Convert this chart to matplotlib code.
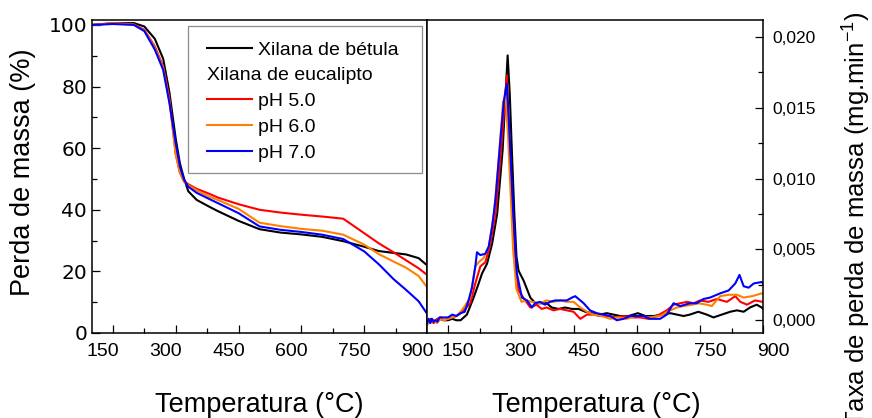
import matplotlib
matplotlib.use("Agg")
import matplotlib.pyplot as plt
from matplotlib.ticker import MultipleLocator, FuncFormatter
from matplotlib.transforms import Affine2D
from matplotlib.lines import Line2D
from matplotlib.patches import Rectangle

plt.rcParams['font.family'] = ['Liberation Sans', 'DejaVu Sans']
plt.rcParams['mathtext.default'] = 'regular'

# ---------------- data ----------------
labels = ["Xilana de bétula", "Xilana de eucalipto", "pH 5.0", "pH 6.0", "pH 7.0"]
colors = ["#000000", "#FF0000", "#FF8000", "#0000FF"]

# TGA (left panel)
x_tga = [100, 150, 200, 225, 250, 270, 285, 300, 310, 320, 330, 350, 380, 400,
         450, 500, 550, 600, 650, 700, 750, 785, 820, 850, 880, 900]
tga_betula = [100, 100.5, 100.6, 99.5, 95.5, 89, 78, 63, 55, 50, 46, 43.2, 41,
              39.6, 36.4, 33.7, 32.6, 32.0, 31.2, 29.8, 28.0, 26.6, 26.0, 25.5, 24.3, 22.0]
tga_ph5 = [100, 100.6, 100.2, 98.4, 93, 86.5, 76, 58, 52, 49.2, 48.3, 46.8, 45.2,
           44.0, 41.8, 40.0, 39.1, 38.4, 37.8, 37.1, 32.4, 29.1, 26.2, 23.6, 21.0, 18.9]
tga_ph6 = [100, 100.5, 100.1, 98.2, 92.5, 86, 75, 58, 52, 49, 48, 46.3, 44.3,
           43.2, 40.3, 35.8, 34.7, 33.8, 33.2, 31.9, 28.7, 25.6, 23.2, 21.2, 18.5, 14.9]
tga_ph7 = [100, 100.3, 100, 98, 92, 85.4, 74.6, 61.6, 54, 49.7, 47.5, 45.5, 43.5,
           42.2, 38.9, 34.6, 33.5, 32.8, 31.9, 30.5, 26.5, 22.3, 17.5, 14.0, 10.3, 6.3]

# DTG (right panel), values in 1e-3 mg/min
x_dtg_betula = [100, 110, 120, 130, 140, 150, 160, 170, 180, 195, 211, 223, 231, 243,
                255, 267, 280, 292, 297, 302, 308, 313, 318, 330, 346, 358, 370, 385,
                397, 413, 429, 445, 461, 477, 493, 512, 528, 544, 560, 580, 602, 620,
                640, 660, 679, 695, 711, 726, 746, 766, 782, 802, 822, 838, 854, 869,
                885, 897, 900]
dtg_betula = [-0.2, 0.1, -0.1, 0.1, 0.0, 0.0, 0.1, 0.0, 0.0, 0.4, 1.6, 2.6, 3.3, 4.0,
              5.4, 7.5, 12.0, 18.7, 16.0, 12.0, 7.5, 4.5, 3.5, 2.8, 1.6, 1.2, 1.2, 1.2,
              0.9, 0.8, 0.9, 0.8, 0.8, 0.6, 0.5, 0.4, 0.5, 0.4, 0.3, 0.3, 0.5, 0.3,
              0.3, 0.4, 0.5, 0.4, 0.3, 0.4, 0.6, 0.4, 0.2, 0.4, 0.6, 0.7, 0.6, 0.9,
              1.1, 0.9, 0.8]

x_dtg_ph5 = [100, 108, 116, 124, 132, 140, 150, 160, 170, 180, 190, 203, 215, 227,
             239, 251, 263, 275, 290, 296, 302, 310, 318, 334, 346, 361, 373, 385,
             401, 417, 433, 449, 465, 481, 496, 512, 530, 550, 570, 590, 607, 627,
             647, 671, 687, 703, 719, 735, 750, 770, 790, 814, 834, 846, 862, 881, 900]
dtg_ph5 = [-0.3, 0.0, -0.2, 0.1, 0.2, 0.0, 0.1, 0.2, 0.3, 0.5, 0.8, 1.2, 2.6, 3.8,
           4.1, 5.4, 7.5, 11.5, 17.3, 13.0, 8.5, 3.8, 2.1, 1.4, 0.9, 1.1, 0.8, 0.9,
           0.7, 0.8, 0.7, 0.6, 0.1, 0.4, 0.4, 0.3, 0.3, 0.2, 0.3, 0.2, 0.2, 0.1,
           0.3, 0.7, 1.1, 1.2, 1.3, 1.2, 1.4, 1.3, 1.5, 1.3, 1.7, 1.3, 1.1, 1.4, 1.3]

x_dtg_ph6 = [100, 108, 116, 124, 132, 140, 150, 160, 170, 180, 190, 203, 215, 223,
             235, 247, 259, 271, 281, 287, 293, 299, 305, 313, 325, 337, 349, 369,
             385, 401, 417, 433, 449, 465, 481, 496, 516, 536, 556, 576, 596, 607,
             631, 655, 679, 695, 711, 731, 746, 766, 778, 798, 818, 838, 854, 874,
             897, 900]
dtg_ph6 = [-0.3, -0.1, 0.0, -0.2, 0.1, 0.0, 0.1, 0.2, 0.3, 0.6, 1.0, 1.6, 3.8, 4.1,
           4.4, 5.2, 7.4, 11.5, 15.4, 15.8, 13.0, 9.0, 5.0, 2.2, 1.3, 1.4, 1.3, 1.2,
           1.4, 1.3, 1.4, 1.3, 1.3, 0.9, 0.6, 0.4, 0.3, 0.1, 0.2, 0.1, 0.3, 0.3,
           0.2, 0.3, 0.7, 0.9, 1.0, 1.1, 1.2, 1.1, 1.0, 1.7, 1.8, 1.8, 1.6, 1.7,
           1.9, 1.9]

x_dtg_ph7 = [100, 104, 108, 112, 116, 120, 125, 130, 140, 150, 160, 170, 180, 190,
             199, 207, 215, 219, 227, 239, 247, 255, 263, 275, 283, 290, 296, 300,
             305, 314, 326, 338, 350, 357, 369, 381, 393, 405, 417, 433, 445, 453,
             461, 473, 488, 504, 520, 536, 552, 568, 584, 600, 616, 631, 655, 671,
             687, 703, 726, 742, 758, 774, 798, 818, 834, 844, 854, 866, 878, 897, 900]
dtg_ph7 = [-0.2, 0.1, -0.2, 0.1, -0.1, 0.0, -0.1, 0.2, 0.2, 0.2, 0.4, 0.3, 0.5, 0.6,
           1.4, 2.3, 3.8, 4.8, 4.6, 4.7, 5.2, 6.6, 8.5, 12.8, 15.5, 16.7, 13.5, 11.0,
           7.8, 3.3, 1.6, 1.4, 0.9, 1.2, 1.3, 1.1, 1.3, 1.4, 1.4, 1.4, 1.6, 1.7,
           1.5, 1.2, 0.7, 0.5, 0.4, 0.3, 0.0, 0.1, 0.3, 0.3, 0.3, 0.1, 0.1, 0.4,
           1.2, 1.0, 1.2, 1.2, 1.5, 1.6, 1.9, 2.1, 2.6, 3.2, 2.4, 2.3, 2.6, 2.7, 2.6]

x_ticks = [150, 300, 450, 600, 750, 900]
y_ticks_left = [0, 20, 40, 60, 80, 100]
y_ticks_right = [0.000, 0.005, 0.010, 0.015, 0.020]

# ---------------- figure ----------------
W, H = 872, 418
fig = plt.figure(figsize=(W / 100, H / 100), dpi=100)
bot = 1 - 333 / H
hgt = (333 - 20) / H
ax1 = fig.add_axes([92 / W, bot, (427 - 92) / W, hgt])
ax2 = fig.add_axes([427 / W, bot, (763 - 427) / W, hgt])

lw = 1.5
tga_series = [tga_betula, tga_ph5, tga_ph6, tga_ph7]
for ys, c in zip(tga_series, colors):
    ax1.plot(x_tga, ys, color=c, lw=lw)

dtg_series = [(x_dtg_betula, dtg_betula), (x_dtg_ph5, dtg_ph5),
              (x_dtg_ph6, dtg_ph6), (x_dtg_ph7, dtg_ph7)]
for (xs, ys), c in zip(dtg_series, colors):
    ax2.plot(xs, [v * 1e-3 for v in ys], color=c, lw=lw)

for ax in (ax1, ax2):
    ax.set_xlim(100, 900)
    ax.set_xticks(x_ticks)
    ax.xaxis.set_minor_locator(MultipleLocator(75))
    for s in ax.spines.values():
        s.set_linewidth(1.1)
    ax.tick_params(which='both', direction='in', top=False, width=0.9)
    ax.tick_params(which='major', length=6)
    ax.tick_params(which='minor', length=3.6)
    ax.tick_params(axis='x', pad=7.5, labelsize=14)

ax1.set_ylim(0, 101.6)
ax1.set_yticks(y_ticks_left)
ax1.yaxis.set_minor_locator(MultipleLocator(10))
ax1.tick_params(axis='y', which='both', left=True, right=False, pad=3.5)
for lab in ax1.get_yticklabels():
    lab.set_fontfamily('DejaVu Sans')
    lab.set_fontsize(14.5)

ax2.set_ylim(-0.0009, 0.0212)
ax2.set_yticks(y_ticks_right)
ax2.yaxis.set_minor_locator(MultipleLocator(0.0025))
ax2.yaxis.tick_right()
ax2.tick_params(axis='y', which='both', left=False, right=True, pad=7, labelsize=12.5)
ax2.yaxis.set_major_formatter(FuncFormatter(lambda v, p: f"{v:.3f}".replace('.', ',')))

# tick label horizontal offsets as in reference
for lab in ax1.get_xticklabels():
    lab.set_transform(lab.get_transform() + Affine2D().translate(-10, 0))
for lab in ax2.get_xticklabels():
    lab.set_transform(lab.get_transform() + Affine2D().translate(10, 0))

# axis labels
fig.text(23 / W, 1 - 172 / H, "Perda de massa (%)", rotation=90, ha='center',
         va='center', fontsize=19.5)
fig.text(259.5 / W, 1 - 405 / H, "Temperatura (°C)", ha='center', va='center', fontsize=19.5)
fig.text(596 / W, 1 - 405 / H, "Temperatura (°C)", ha='center', va='center', fontsize=19.5)
fig.text(857 / W, 1 - 219 / H, "Taxa de perda de massa (mg.min$^{-1}$)", rotation=90,
         ha='center', va='center', fontsize=18.5)

# legend
handles = [Line2D([], [], color=colors[0], lw=lw),
           Line2D([], [], color='none', lw=lw),
           Line2D([], [], color=colors[1], lw=lw),
           Line2D([], [], color=colors[2], lw=lw),
           Line2D([], [], color=colors[3], lw=lw)]
leg_fs = 14
leg = ax1.legend(handles, labels, loc='upper left',
                 bbox_to_anchor=((207 - 92) / 335, (333 - 41) / 313),
                 frameon=False, fontsize=leg_fs, handlelength=2.3,
                 handletextpad=0.3, labelspacing=0.42, borderpad=0, borderaxespad=0)
shift = (2.3 + 0.3) * leg_fs * 100 / 72
leg.get_texts()[1].set_transform(leg.get_texts()[1].get_transform()
                                 + Affine2D().translate(-shift, 0))
ax1.add_patch(Rectangle(((188 - 92) / 335, (333 - 173) / 313), (422 - 188) / 335,
                        (173 - 26) / 313, transform=ax1.transAxes, fill=False,
                        edgecolor='#8c8c8c', lw=0.9, zorder=5))

fig.savefig("out.png", dpi=100)
